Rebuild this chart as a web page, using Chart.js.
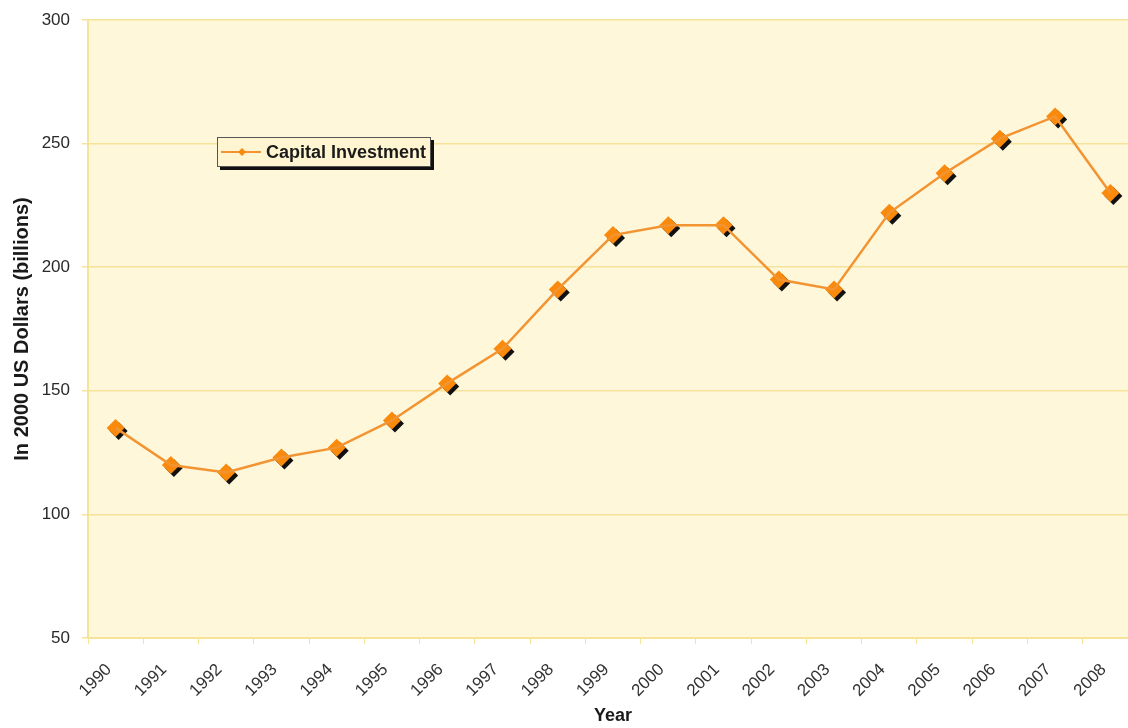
<!DOCTYPE html>
<html>
<head>
<meta charset="utf-8">
<script src="https://cdn.jsdelivr.net/npm/chart.js@4.4.1/dist/chart.umd.min.js"></script>
<style>
  html, body { margin: 0; padding: 0; background: #fff; overflow: hidden; }
  /* the plot runs a little past the right edge in the original, so the canvas is wider than the view */
  .wrapper { width: 1128px; height: 728px; position: relative; overflow: hidden; }
  canvas { display: block; }
</style>
</head>
<body>
<div class="wrapper">
  <canvas id="myChart" width="1138" height="728"></canvas>
</div>
<script>
// chart data
const years = ['1990', '1991', '1992', '1993', '1994', '1995', '1996', '1997', '1998', '1999',
  '2000', '2001', '2002', '2003', '2004', '2005', '2006', '2007', '2008'];
const investment = [135, 120, 117, 123, 127, 138, 153, 167, 191, 213,
  217, 217, 195, 191, 222, 238, 252, 261, 230];
const yTicks = [50, 100, 150, 200, 250, 300];
const seriesName = 'Capital Investment';

const app = {};

app.lineColor = '#F39433';
app.markColor = '#FA8A0C';
app.plotBg = '#FFF7D9';
app.gridColor = '#F5E39A';
app.font = '"Liberation Sans", Arial, sans-serif';

// plot background + black drop shadow under the diamonds
const plotBackground = {
  id: 'plotBackground',
  beforeDraw(chart) {
    const { ctx, chartArea } = chart;
    ctx.save();
    ctx.fillStyle = app.plotBg;
    ctx.fillRect(chartArea.left, chartArea.top, chartArea.right - chartArea.left, chartArea.bottom - chartArea.top);
    ctx.restore();
  },
  beforeDatasetDraw(chart, args) {
    if (args.index !== 1) return;
    const ctx = chart.ctx;
    ctx.save();
    ctx.shadowColor = '#111';
    ctx.shadowOffsetX = 3;
    ctx.shadowOffsetY = 3;
    ctx.shadowBlur = 0;
  },
  afterDatasetDraw(chart, args) {
    if (args.index !== 1) return;
    chart.ctx.restore();
  }
};

// legend box sitting inside the plot, like the original
const boxLegend = {
  id: 'boxLegend',
  afterDraw(chart) {
    const { ctx, chartArea } = chart;
    const x = chartArea.left + 129;
    const y = chartArea.top + 117;
    const w = 214;
    const h = 30;
    ctx.save();
    ctx.fillStyle = '#111';
    ctx.fillRect(x + 3, y + 3, w, h);
    ctx.fillStyle = '#FFF5D0';
    ctx.fillRect(x, y, w, h);
    ctx.strokeStyle = '#555';
    ctx.lineWidth = 1;
    ctx.strokeRect(x + 0.5, y + 0.5, w - 1, h - 1);

    const my = y + h / 2;
    ctx.strokeStyle = app.lineColor;
    ctx.lineWidth = 2;
    ctx.beginPath();
    ctx.moveTo(x + 4, my);
    ctx.lineTo(x + 44, my);
    ctx.stroke();
    ctx.fillStyle = app.markColor;
    ctx.beginPath();
    ctx.moveTo(x + 25, my - 4);
    ctx.lineTo(x + 29, my);
    ctx.lineTo(x + 25, my + 4);
    ctx.lineTo(x + 21, my);
    ctx.closePath();
    ctx.fill();

    ctx.fillStyle = '#1a1a1a';
    ctx.font = 'bold 18px ' + app.font;
    ctx.textBaseline = 'middle';
    ctx.fillText(seriesName, x + 49, my + 1);
    ctx.restore();
  }
};

app.init = () => {
  const data = {
    labels: years,
    datasets: [{
      label: seriesName,
      data: investment,
      borderColor: app.lineColor,
      borderWidth: 2.5,
      pointRadius: 0,
      tension: 0,
      fill: false
    }, {
      label: seriesName + ' points',
      data: investment,
      showLine: false,
      pointStyle: 'rectRot',
      pointRadius: 9,
      pointBackgroundColor: app.markColor,
      pointBorderColor: app.markColor,
      pointBorderWidth: 0
    }]
  };

  const config = {
    type: 'line',
    data,
    plugins: [plotBackground, boxLegend],
    options: {
      responsive: false,
      animation: false,
      layout: { autoPadding: false, padding: { top: 20, right: 0, left: 0, bottom: 0 } },
      plugins: {
        legend: { display: false },
        tooltip: { enabled: false }
      },
      scales: {
        x: {
          offset: true,
          grid: {
            offset: true,
            drawOnChartArea: false,
            color: app.gridColor,
            tickLength: 6
          },
          border: { color: app.gridColor, width: 2 },
          ticks: {
            color: '#333',
            font: { family: app.font, size: 17 },
            minRotation: 45,
            maxRotation: 45,
            padding: 9,
            // pad so the slanted year sits a little left of its point
            callback: function(value) { return this.getLabelForValue(value) + '  '; }
          },
          title: {
            display: true,
            text: 'Year',
            color: '#1a1a1a',
            font: { family: app.font, size: 18, weight: 'bold' },
            padding: { top: 0, bottom: 1 }
          },
          afterFit: (scale) => {
            scale.height = 90;
            scale.paddingRight = 0;
            scale.paddingLeft = 0;
          }
        },
        y: {
          min: 50,
          max: 300,
          afterBuildTicks: (scale) => { scale.ticks = yTicks.map(v => ({ value: v })); },
          grid: {
            color: app.gridColor,
            lineWidth: 1.5,
            drawTicks: true,
            tickLength: 6
          },
          border: { color: app.gridColor, width: 2 },
          ticks: {
            color: '#2a2a2a',
            font: { family: app.font, size: 17 },
            padding: 12
          },
          title: {
            display: true,
            text: 'In 2000 US Dollars (billions)',
            color: '#1a1a1a',
            font: { family: app.font, size: 20, weight: 'bold' },
            padding: { top: 10, bottom: 4 }
          },
          afterFit: (scale) => {
            scale.width = 88;
            scale.paddingTop = 0;
            scale.paddingBottom = 0;
          }
        }
      }
    }
  };

  new Chart(document.getElementById('myChart'), config);
};

document.addEventListener('DOMContentLoaded', () => {
  app.init();
});
</script>
</body>
</html>
